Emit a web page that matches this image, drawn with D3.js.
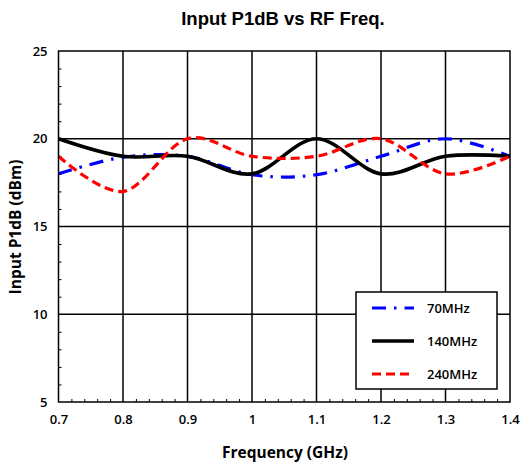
<!DOCTYPE html>
<html lang="en">
<head>
    <meta charset="UTF-8">
    <title>Input P1dB vs RF Freq.</title>
    <script src="https://d3js.org/d3.v7.min.js"></script>
    <style>
        body { margin: 0; background: #fff; }
        text { font-family: "Open Sans", sans-serif; font-weight: 600; }
    </style>
</head>
<body>
<svg id="graph"></svg>
<script>
    // data
    const FREQ = [0.7, 0.8, 0.9, 1.0, 1.1, 1.2, 1.3, 1.4];
    const P70 = [18, 18.95, 19, 17.95, 17.95, 19, 20, 19];
    const P140 = [20, 19, 19, 18, 20, 18, 19, 19];
    const P240 = [19, 17, 20, 19, 19, 20, 18, 19];
    const SERIES = ['70MHz', '140MHz', '240MHz'];
    const X_TICKS = [0.7, 0.8, 0.9, 1, 1.1, 1.2, 1.3, 1.4];
    const Y_TICKS = [5, 10, 15, 20, 25];

    const W = 521, H = 463;
    const margins = {top: 51, right: 11, bottom: 61, left: 58.5};

    const svg = d3.select('#graph').attr('width', W).attr('height', H);

    const x = d3.scaleLinear().domain([0.7, 1.4]).range([margins.left, W - margins.right]);
    const y = d3.scaleLinear().domain([5, 25]).range([H - margins.bottom, margins.top]);

    // grid
    svg.append('g').selectAll('line').data(X_TICKS.slice(1, -1)).enter().append('line')
        .attr('x1', d => x(d)).attr('x2', d => x(d))
        .attr('y1', y(25)).attr('y2', y(5))
        .attr('stroke', '#000').attr('stroke-width', 1.5);
    svg.append('g').selectAll('line').data(Y_TICKS.slice(1, -1)).enter().append('line')
        .attr('x1', x(0.7)).attr('x2', x(1.4))
        .attr('y1', d => y(d)).attr('y2', d => y(d))
        .attr('stroke', '#000').attr('stroke-width', 1.5);

    // minor ticks (inside)
    const minorX = d3.range(0.72, 1.4, 0.02).filter(v => Math.abs(Math.round(v * 10) - v * 10) > 0.01);
    svg.append('g').attr('transform', 'translate(0,' + y(5) + ')')
        .call(d3.axisBottom(x).tickValues(minorX).tickSize(-3).tickFormat(''))
        .call(g => g.select('.domain').remove())
        .selectAll('line').attr('stroke-width', 1);
    const minorY = d3.range(6, 25, 1).filter(v => v % 5 !== 0);
    svg.append('g').attr('transform', 'translate(' + x(0.7) + ',0)')
        .call(d3.axisLeft(y).tickValues(minorY).tickSize(-3).tickFormat(''))
        .call(g => g.select('.domain').remove())
        .selectAll('line').attr('stroke-width', 1);

    // tick labels
    svg.append('g').attr('transform', 'translate(0,' + y(5) + ')')
        .call(d3.axisBottom(x).tickValues(X_TICKS).tickSize(0).tickPadding(13).tickFormat(d3.format('')))
        .call(g => g.select('.domain').remove())
        .selectAll('text').style('font-size', '13px').style('font-family', '"Open Sans", sans-serif').style('font-weight', 600).attr('fill', '#000');
    svg.append('g').attr('transform', 'translate(' + x(0.7) + ',0)')
        .call(d3.axisLeft(y).tickValues(Y_TICKS).tickSize(0).tickPadding(11))
        .call(g => g.select('.domain').remove())
        .selectAll('text').style('font-size', '13px').style('font-family', '"Open Sans", sans-serif').style('font-weight', 600).attr('fill', '#000');

    // series
    const line = d3.line().x((d, i) => x(FREQ[i])).y(d => y(d)).curve(d3.curveCardinal.tension(0));
    const styles = [
        {data: P70, color: '#0000ff', width: 3.2, dash: '14,8,2.5,8'},
        {data: P140, color: '#000000', width: 3.6, dash: null},
        {data: P240, color: '#ff0000', width: 3.2, dash: '9,5'}
    ];
    styles.forEach(s => {
        svg.append('path').datum(s.data)
            .attr('d', line)
            .attr('fill', 'none')
            .attr('stroke', s.color)
            .attr('stroke-width', s.width)
            .attr('stroke-dasharray', s.dash);
    });

    // frame
    svg.append('rect')
        .attr('x', x(0.7)).attr('y', y(25))
        .attr('width', x(1.4) - x(0.7)).attr('height', y(5) - y(25))
        .attr('fill', 'none').attr('stroke', '#000').attr('stroke-width', 1.5);

    // legend
    const lg = svg.append('g').attr('transform', 'translate(356,292)');
    lg.append('rect').attr('width', 141).attr('height', 97)
        .attr('fill', '#fff').attr('stroke', '#000').attr('stroke-width', 1.5);
    SERIES.forEach((name, i) => {
        const yy = 16 + i * 33;
        lg.append('line').attr('x1', 16).attr('x2', 58).attr('y1', yy).attr('y2', yy)
            .attr('stroke', styles[i].color).attr('stroke-width', styles[i].width)
            .attr('stroke-dasharray', styles[i].dash);
        lg.append('text').attr('x', 71).attr('y', yy + 5)
            .style('font-size', '13px').text(name);
    });

    // titles
    svg.append('text').attr('x', 283).attr('y', 25).attr('text-anchor', 'middle')
        .style('font-family', '"Liberation Sans", Arial, sans-serif').style('font-weight', 700)
        .style('font-size', '18.5px').text('Input P1dB vs RF Freq.');
    svg.append('text').attr('x', 285).attr('y', 458).attr('text-anchor', 'middle')
        .style('font-size', '15.5px').style('font-weight', 700).text('Frequency (GHz)');
    svg.append('text').attr('transform', 'translate(21,227) rotate(-90)').attr('text-anchor', 'middle')
        .style('font-size', '15.5px').style('font-weight', 700).text('Input P1dB (dBm)');
</script>
</body>
</html>
